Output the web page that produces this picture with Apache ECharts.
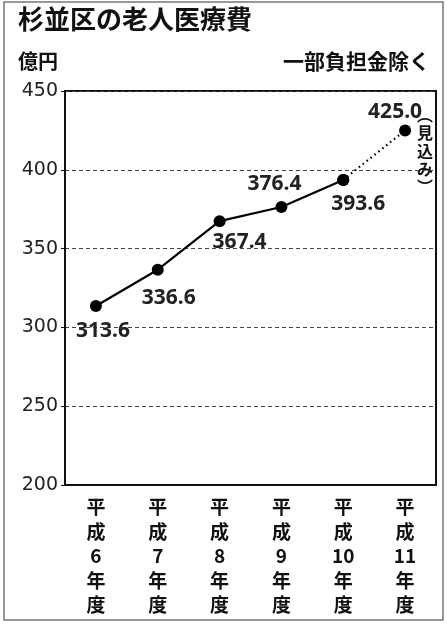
<!DOCTYPE html>
<html><head><meta charset="utf-8">
<script src="https://cdn.jsdelivr.net/npm/echarts@6/dist/echarts.min.js"></script>
<style>html,body{margin:0;padding:0;background:#fff}#c{width:447px;height:624px}</style>
</head><body><div id="c"></div>
<script>
const categories = ['平\n成\n6\n年\n度','平\n成\n7\n年\n度','平\n成\n8\n年\n度','平\n成\n9\n年\n度','平\n成\n10\n年\n度','平\n成\n11\n年\n度'];
const actualValues = [313.6, 336.6, 367.4, 376.4, 393.6, null];
const projectedValues = [null, null, null, null, 393.6, 425.0];
const labelTexts = ['313.6','336.6','367.4','376.4','393.6','425.0'];
const yTicks = [200, 250, 300, 350, 400, 450];
const titleText = '杉並区の老人医療費';
const unitText = '億円';
const noteText = '一部負担金除く';
const projNote = '︵\n見\n込\nみ\n︶';

const labelOffsets = [[7,25],[11,28],[20,21],[-7,-23],[15,24],[-10,-18]];
const allValues = actualValues.map((v,i)=> v!=null ? v : projectedValues[i]);

const chart = echarts.init(document.getElementById('c'));
const jp = '"Noto Sans CJK JP","Noto Sans",sans-serif';
chart.setOption({
  animation:false,
  grid:{left:65,right:11,top:91,bottom:139,show:true,borderColor:'#111',borderWidth:2},
  xAxis:{type:'category',data:categories,boundaryGap:true,
    axisLine:{show:true,lineStyle:{color:'#111',width:2}},axisTick:{show:false},
    axisLabel:{interval:0,margin:10,fontFamily:jp,fontWeight:'bold',fontSize:19,lineHeight:24.5,color:'#111',align:'center',verticalAlign:'top'}},
  yAxis:{type:'value',min:yTicks[0],max:yTicks[yTicks.length-1],interval:50,
    axisLine:{show:true,lineStyle:{color:'#111',width:2}},
    axisTick:{show:true,length:4,lineStyle:{color:'#111'}},
    axisLabel:{margin:7,fontFamily:'"DejaVu Sans",sans-serif',fontSize:19,color:'#222'},
    splitLine:{show:true,lineStyle:{color:'#444',type:[4,3],width:1}}},
  graphic:[
    {type:'rect',shape:{x:4,y:2,width:439,height:618},style:{fill:'none',stroke:'#777',lineWidth:1.5},silent:true},
    {type:'text',left:18,top:6,style:{text:titleText,font:'bold 26px '+jp,fill:'#111'}},
    {type:'text',left:18,top:51,style:{text:unitText,font:'bold 20px '+jp,fill:'#111'}},
    {type:'text',right:17,top:51,style:{text:noteText,font:'bold 21px '+jp,fill:'#111'}},
    {type:'text',x:425,y:106,style:{text:projNote,font:'bold 16px '+jp,fill:'#111',align:'center',lineHeight:18}}
  ],
  series:[
    {type:'line',data:actualValues,symbol:'circle',symbolSize:12,
      lineStyle:{color:'#000',width:2.2},itemStyle:{color:'#000'},z:3},
    {type:'line',data:projectedValues,symbol:'circle',symbolSize:12,
      lineStyle:{color:'#000',width:2.2,type:[1.5,3.5]},itemStyle:{color:'#000'},z:2},
    {type:'scatter',data:allValues.map((v,i)=>({value:v,
        label:{show:true,formatter:labelTexts[i],position:'inside',offset:labelOffsets[i]}})),
      symbolSize:0,silent:true,z:5,itemStyle:{opacity:1},
      label:{fontFamily:'"Noto Sans",sans-serif',fontWeight:'bold',fontSize:21,color:'#222',opacity:1,align:'center',verticalAlign:'middle'}}
  ]
});
</script></body></html>
